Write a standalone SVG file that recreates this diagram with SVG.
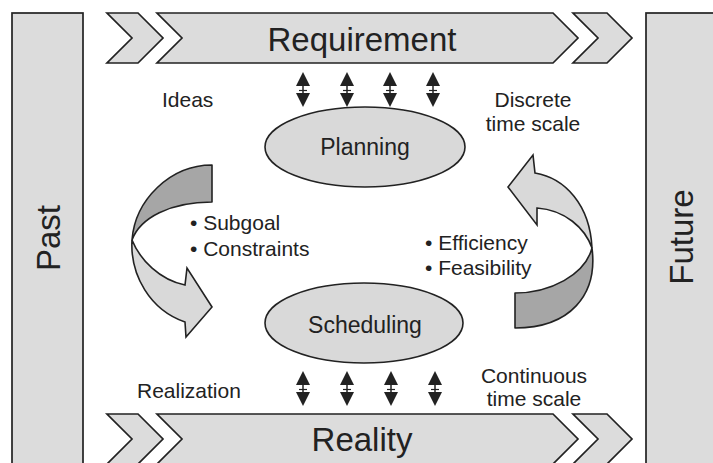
<svg xmlns="http://www.w3.org/2000/svg" xmlns:xlink="http://www.w3.org/1999/xlink" width="713" height="463" viewBox="0 0 713 463">
<style>
.box{fill:#dcdcdc;stroke:#222;stroke-width:1.7;stroke-linejoin:miter}
.ell{fill:#d9d9d9;stroke:#222;stroke-width:1.6}
.light{fill:#d9d9d9;stroke:#222;stroke-width:1.6;stroke-linejoin:miter}
.dark{fill:#a6a6a6;stroke:#222;stroke-width:1.6;stroke-linejoin:round}
text{font-family:"Liberation Sans",Arial,sans-serif;fill:#222}
.big{font-size:33px}
.mid{font-size:23px}
.lbl{font-size:21px}
.c{text-anchor:middle}
</style>
<defs>
<g id="dbl">
<path d="M0,-17.5 L7,-3.5 L-7,-3.5 Z" fill="#222"/>
<path d="M0,17.5 L7,3.5 L-7,3.5 Z" fill="#222"/>
<line x1="0" y1="-4" x2="0" y2="4" stroke="#222" stroke-width="1.5"/>
<line x1="-4" y1="1" x2="4" y2="1" stroke="#222" stroke-width="1.2"/>
</g>
</defs>
<rect width="713" height="463" fill="#fff"/>

<g id="past">
<rect class="box" x="12" y="13" width="71" height="470"/>
<text class="big c" transform="translate(60,238) rotate(-90)">Past</text>
</g>

<g id="future">
<rect class="box" x="646" y="13" width="80" height="470"/>
<text class="big c" transform="translate(693,237) rotate(-90)">Future</text>
</g>

<g id="requirement">
<path class="box" d="M107,13 H138 L163,38 L138,63 H107 L132,38 Z"/>
<path class="box" d="M157,13 H553 L578,38 L553,63 H157 L182,38 Z"/>
<path class="box" d="M573,13 H607 L632,38 L607,63 H573 L598,38 Z"/>
<text class="big c" x="362" y="51">Requirement</text>
</g>

<g id="reality">
<path class="box" d="M107,414 H138 L163,439 L138,464 H107 L132,439 Z"/>
<path class="box" d="M157,414 H553 L578,439 L553,464 H157 L182,439 Z"/>
<path class="box" d="M573,414 H607 L632,439 L607,464 H573 L598,439 Z"/>
<text class="big c" x="362" y="451">Reality</text>
</g>

<g id="planning">
<ellipse class="ell" cx="365" cy="147" rx="100" ry="40"/>
<text class="mid c" x="365" y="155">Planning</text>
</g>

<g id="scheduling">
<ellipse class="ell" cx="364" cy="323" rx="99" ry="40"/>
<text class="mid c" x="365" y="333">Scheduling</text>
</g>

<g id="connectors">
<use xlink:href="#dbl" x="303" y="89.5"/>
<use xlink:href="#dbl" x="347" y="89.5"/>
<use xlink:href="#dbl" x="390" y="89.5"/>
<use xlink:href="#dbl" x="433" y="89.5"/>
<use xlink:href="#dbl" x="303" y="388.5"/>
<use xlink:href="#dbl" x="347" y="388.5"/>
<use xlink:href="#dbl" x="391" y="388.5"/>
<use xlink:href="#dbl" x="435" y="388.5"/>
<g id="arrow-left">
<path class="dark" d="M212,165 C170,165 135,200 132,240 C140,218 170,202 212,202 Z"/>
<path class="light" d="M132,240 C130,275 150,310 185,322 L186,337 L212,307 L187,268 L185,285 C160,280 140,260 132,240 Z"/>
</g>
<g id="arrow-right">
<path class="light" d="M535,173 C565,178 590,205 592,248 C585,228 565,210 537,208 L537,225 L508,187 L533,155 Z"/>
<path class="dark" d="M592,248 C598,295 570,328 515,328 L515,293 C550,293 585,275 592,248 Z"/>
</g>
</g>

<g id="labels">
<text class="lbl" x="162" y="107">Ideas</text>
<text class="lbl c" x="533" y="107">Discrete</text>
<text class="lbl c" x="533" y="131">time scale</text>
<text class="lbl" x="190" y="230">• Subgoal</text>
<text class="lbl" x="190" y="256">• Constraints</text>
<text class="lbl" x="425" y="250">• Efficiency</text>
<text class="lbl" x="425" y="275">• Feasibility</text>
<text class="lbl" x="137" y="398">Realization</text>
<text class="lbl c" x="534" y="383">Continuous</text>
<text class="lbl c" x="534" y="406">time scale</text>
</g>
</svg>
